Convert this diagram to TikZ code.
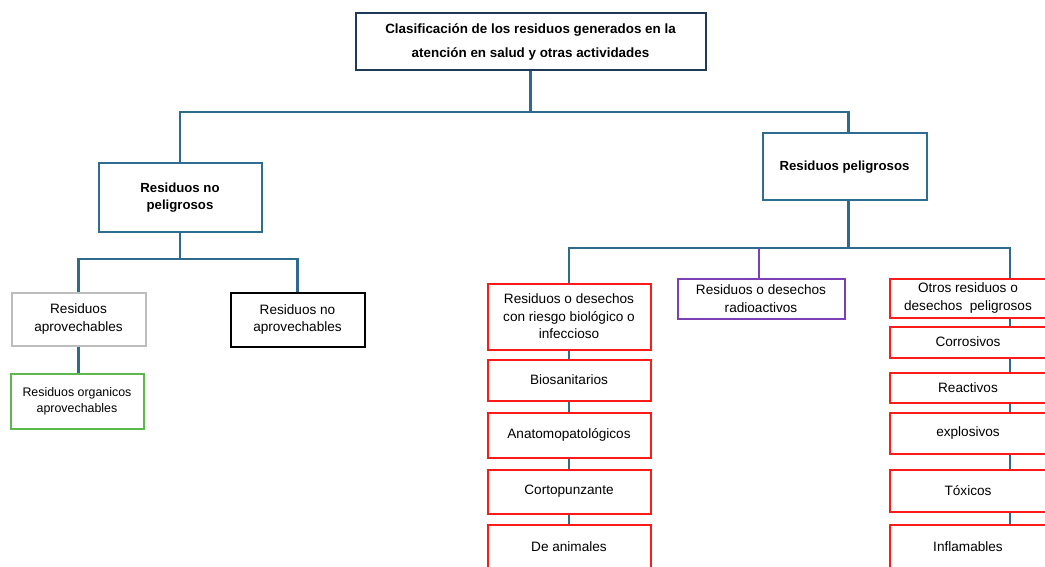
\documentclass[tikz,border=0pt]{standalone}
\usepackage{fontspec}
\setmainfont{Liberation Sans}
\begin{document}
\begin{tikzpicture}[x=1pt,y=-1pt,
  conn/.style={draw=lineblue,line width=2.2pt},
  box/.style={draw,line width=2pt,rectangle,align=center,inner sep=2pt,font=\fontsize{13.6}{17.5}\selectfont,fill=white},
  bluebox/.style={box,draw=boxblue,font=\bfseries\fontsize{13.2}{17.5}\selectfont},
  redbox/.style={box,draw=boxred},
]
\definecolor{lineblue}{HTML}{2E6A8C}
\definecolor{boxblue}{HTML}{2F6D90}
\definecolor{navy}{HTML}{1E3A56}
\definecolor{boxgray}{HTML}{BDBDBD}
\definecolor{boxgreen}{HTML}{5CB848}
\definecolor{boxpurple}{HTML}{7D3FB6}
\definecolor{boxred}{HTML}{FF1A1A}
\useasboundingbox (0,0) rectangle (1045,567);
\clip (0,0) rectangle (1045,567);

% nodes
\node[box,draw=navy,font=\bfseries\fontsize{13.4}{24.5}\selectfont,minimum width=350,minimum height=57] (top) at (530.5,42) {Clasificación de los residuos generados en la\\atención en salud y otras actividades};
\node[bluebox,minimum width=163,minimum height=68] (np) at (180,197.5) {Residuos no\\peligrosos};
\node[bluebox,minimum width=164,minimum height=67] (pel) at (844.5,167) {Residuos peligrosos};

\node[box,draw=boxgray,minimum width=134,minimum height=53] (apr) at (78.5,319) {Residuos\\aprovechables};
\node[box,draw=black,minimum width=134,minimum height=54] (noapr) at (297.5,319.5) {Residuos no\\aprovechables};
\node[box,draw=boxgreen,font=\fontsize{12.4}{16}\selectfont,minimum width=133,minimum height=55] (org) at (77,401) {Residuos organicos\\aprovechables};

\node[redbox,minimum width=163,minimum height=66] (bio) at (569,316.5) {Residuos o desechos\\con riesgo biológico o\\infeccioso};
\node[box,draw=boxpurple,minimum width=167,minimum height=40] (rad) at (761,298.5) {Residuos o desechos\\radioactivos};
\node[redbox,minimum width=156,minimum height=39] (otros) at (968,298) {Otros residuos o\\desechos\ \ peligrosos};

\node[redbox,minimum width=163,minimum height=41] (bios) at (569,380) {Biosanitarios};
\node[redbox,minimum width=163,minimum height=45] (anat) at (569,435) {Anatomopatológicos};
\node[redbox,minimum width=163,minimum height=44] (corto) at (569,491.5) {Cortopunzante};
\node[redbox,minimum width=163,minimum height=44] (anim) at (569,547) {De animales};

\node[redbox,minimum width=156,minimum height=31] (corr) at (968,342) {Corrosivos};
\node[redbox,minimum width=156,minimum height=30] (reac) at (968,387.5) {Reactivos};
\node[redbox,minimum width=156,minimum height=41] (expl) at (968,433) {explosivos};
\node[redbox,minimum width=156,minimum height=42] (tox) at (968,490.5) {Tóxicos};
\node[redbox,minimum width=156,minimum height=44] (infl) at (968,547) {Inflamables};

% bus coordinates
\coordinate (b1) at (0,112);
\coordinate (b2) at (0,259);
\coordinate (b3) at (0,248);
\coordinate (rc) at (1010,0);

% connectors
\draw[conn] (top.south) -- (top.south |- b1);
\draw[conn] (np.north) |- ([xshift=4pt]pel.north |- b1) -- ([xshift=4pt]pel.north);
\draw[conn] (np.south) -- (np.south |- b2);
\draw[conn] (apr.north) |- (noapr.north |- b2) -- (noapr.north);
\draw[conn] (apr.south) -- (org.north -| apr.south);
\draw[conn] ([xshift=4pt]pel.south) -- ([xshift=4pt]pel.south |- b3);
\draw[conn] (bio.north) |- (rc |- b3) -- (rc |- otros.north);
\draw[draw=boxpurple,line width=2.2pt] ([xshift=-2pt]rad.north |- b3) -- ([xshift=-2pt]rad.north);

\draw[conn] (bio.south) -- (bios.north);
\draw[conn] (bios.south) -- (anat.north);
\draw[conn] (anat.south) -- (corto.north);
\draw[conn] (corto.south) -- (anim.north);

\draw[conn] (rc |- otros.south) -- (rc |- corr.north);
\draw[conn] (rc |- corr.south) -- (rc |- reac.north);
\draw[conn] (rc |- reac.south) -- (rc |- expl.north);
\draw[conn] (rc |- expl.south) -- (rc |- tox.north);
\draw[conn] (rc |- tox.south) -- (rc |- infl.north);
\end{tikzpicture}
\end{document}
